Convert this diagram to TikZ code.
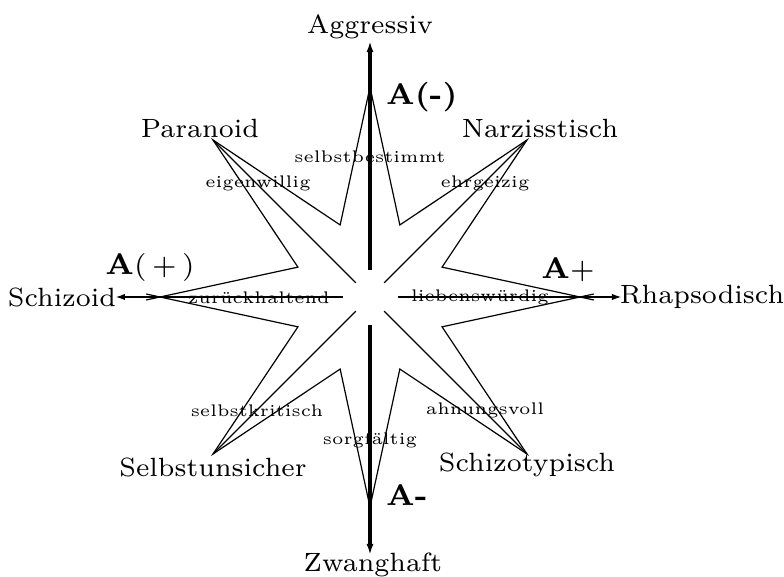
\documentclass[tikz,border=0pt]{standalone}
\usetikzlibrary{arrows.meta,calc}
\begin{document}
\begin{tikzpicture}[x=0.25pt,y=0.25pt,
  lab/.style={font=\fontsize{6.6}{8}\selectfont},
  trait/.style={font=\fontsize{4.2}{5}\selectfont,inner sep=0pt},
  pole/.style={font=\fontsize{7.4}{9}\selectfont\bfseries},
  thin line/.style={line width=0.3pt},
  vaxis/.style={line width=0.8pt,-{Latex[length=2.8pt,width=1.8pt]}},
  haxis/.style={line width=0.5pt,-{Latex[length=2.5pt,width=1.6pt]}}]
\useasboundingbox (-370,-280) rectangle (414,297);
% star
\foreach \j in {0,...,7} {
  \pgfmathsetmacro\r{mod(\j,2)==0 ? 210 : 222}
  \coordinate (o\j) at ({45*\j}:\r);
  \coordinate (i\j) at ({45*\j+22.5}:78);
  \coordinate (h\j) at ({45*\j}:20);
}
\draw[thin line] (o0)--(i0)--(o1)--(i1)--(o2)--(i2)--(o3)--(i3)--(o4)--(i4)--(o5)--(i5)--(o6)--(i6)--(o7)--(i7)--cycle;
\foreach \j in {1,3,5,7} {\draw[thin line] (o\j)--(h\j);}
\draw[thin line] (o0)--($(i0)!1.1!(o0)$) (o0)--($(i7)!1.1!(o0)$)
  (o4)--($(i3)!1.1!(o4)$) (o4)--($(i4)!1.1!(o4)$);
% axes
\coordinate (n0) at (0,27);   \coordinate (n1) at (0,256);
\coordinate (s0) at (0,-28);  \coordinate (s1) at (0,-258);
\coordinate (w0) at (-27,0);  \coordinate (w1) at (-255,0);
\coordinate (e0) at (28,0);   \coordinate (e1) at (252,0);
\draw[vaxis] (n0)--(n1);
\draw[vaxis] (s0)--(s1);
\draw[haxis] (w0)--(w1);
\draw[haxis] (e0)--(e1);
% types
\node[lab] (aggr) at (0,270) {Aggressiv};
\node[lab] (zwang) at (3,-268) {Zwanghaft};
\node[lab] (schiz) at (-308,0) {Schizoid};
\node[lab] (rhaps) at (332,0) {Rhapsodisch};
\node[lab] (para) at (-170,169) {Paranoid};
\node[lab] (narz) at (170,169) {Narzisstisch};
\node[lab] (unsich) at (-157,-170) {Selbstunsicher};
\node[lab] (typ) at (157,-168) {Schizotypisch};
% poles
\node[pole,anchor=west] (am) at (2,200) {A(-)};
\node[pole] (ap) at (-220,29) {A$(\,+\,)$};
\node[pole] (aplus) at (198,27) {A$+$};
\node[pole,anchor=west] (aminus) at (2,-198) {A-};
% traits
\node[trait] (best) at (0,140) {selbstbestimmt};
\node[trait] (eigen) at (-112,114) {eigenwillig};
\node[trait] (ehr) at (115,114) {ehrgeizig};
\node[trait] (zur) at (-111,-1) {zurückhaltend};
\node[trait] (lieb) at (110,0) {liebenswürdig};
\node[trait] (krit) at (-113,-114) {selbstkritisch};
\node[trait] (ahn) at (115,-113) {ahnungsvoll};
\node[trait] (sorg) at (0,-143) {sorgfältig};
\end{tikzpicture}
\end{document}
